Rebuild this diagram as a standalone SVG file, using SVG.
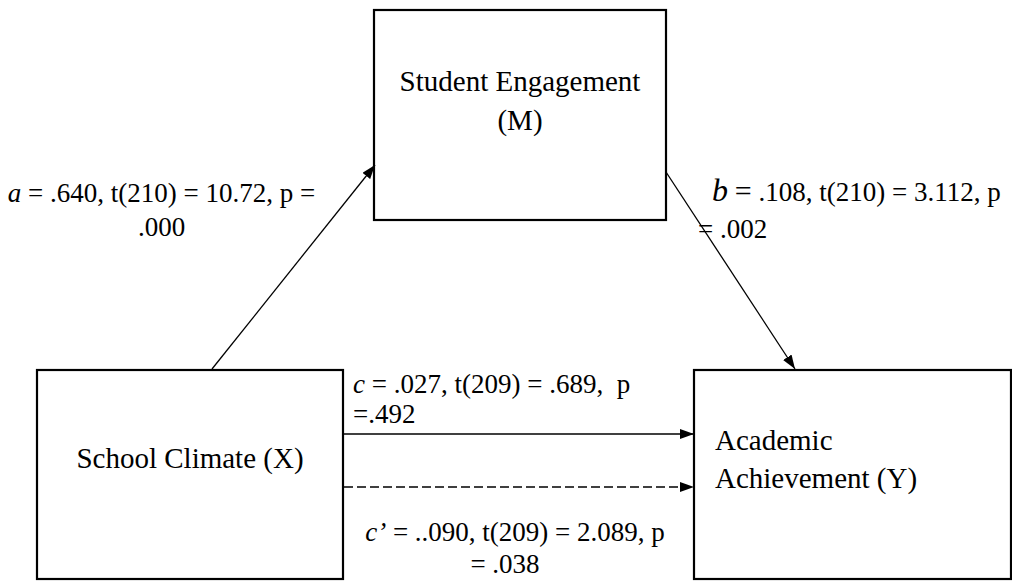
<svg xmlns="http://www.w3.org/2000/svg" width="1012" height="581" viewBox="0 0 1012 581">
<style>
.box{fill:#fff;stroke:#000;stroke-width:2.2}
.node{font-family:"Liberation Serif","Times New Roman",serif;font-size:29px;fill:#000}
.lbl{font-family:"Liberation Serif","Times New Roman",serif;font-size:27px;fill:#000;white-space:pre}
.conn{stroke:#000;stroke-width:1.3;fill:none}
.it{font-style:italic}
</style>
<defs>
<marker id="ah" viewBox="0 0 14 10" refX="14" refY="5" markerWidth="14" markerHeight="10" markerUnits="userSpaceOnUse" orient="auto">
<path d="M0,0 L14,5 L0,10 Z" fill="#000"/>
</marker>
</defs>
<rect width="1012" height="581" fill="#fff"/>
<g id="node-m">
<rect class="box" x="374" y="10" width="292" height="210"/>
<text class="node" x="520" y="91" text-anchor="middle">Student Engagement</text>
<text class="node" x="520" y="130" text-anchor="middle">(M)</text>
</g>
<g id="node-x">
<rect class="box" x="37" y="370" width="306" height="209"/>
<text class="node" x="190" y="468" text-anchor="middle">School Climate (X)</text>
</g>
<g id="node-y">
<rect class="box" x="694" y="370" width="317" height="209"/>
<text class="node" x="715" y="450">Academic</text>
<text class="node" x="715" y="488">Achievement (Y)</text>
</g>
<g id="connectors">
<line class="conn" x1="212" y1="369" x2="375" y2="165" marker-end="url(#ah)"/>
<line class="conn" x1="666" y1="172" x2="795" y2="369" marker-end="url(#ah)"/>
<line class="conn" x1="344" y1="434" x2="694" y2="434" marker-end="url(#ah)"/>
<line class="conn" x1="344" y1="487" x2="694" y2="487" stroke-dasharray="9,4" marker-end="url(#ah)"/>
</g>
<g id="labels">
<text class="lbl" x="161.5" y="202" text-anchor="middle"><tspan class="it">a</tspan> = .640, t(210) = 10.72, p =</text>
<text class="lbl" x="161.5" y="236" text-anchor="middle">.000</text>
<text class="lbl" x="712" y="201"><tspan class="it" font-size="32">b</tspan> <tspan font-size="30">=</tspan> .108, t(210) = 3.112, p</text>
<text class="lbl" x="698" y="238">= .002</text>
<text class="lbl" x="353" y="393"><tspan class="it">c</tspan> = .027, t(209) = .689,  p</text>
<text class="lbl" x="353" y="423">=.492</text>
<text class="lbl" x="515" y="541" text-anchor="middle"><tspan class="it">c’</tspan> = ..090, t(209) = 2.089, p</text>
<text class="lbl" x="505" y="573" text-anchor="middle">= .038</text>
</g>
</svg>
